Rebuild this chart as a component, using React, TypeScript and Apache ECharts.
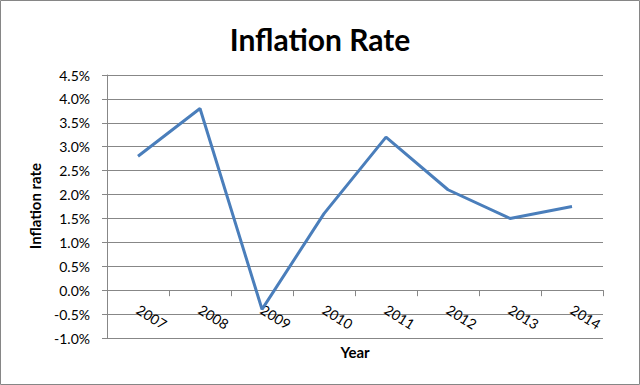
import React, { useEffect, useRef } from "react";
import * as echarts from "echarts";

const years = ["2007", "2008", "2009", "2010", "2011", "2012", "2013", "2014"];
const inflation = [2.8, 3.8, -0.4, 1.6, 3.2, 2.1, 1.5, 1.75];
const yMin = -1.0;
const yMax = 4.5;
const yStep = 0.5;

export default function App() {
  const ref = useRef<HTMLDivElement>(null);
  useEffect(() => {
    if (!ref.current) return;
    const chart = echarts.init(ref.current, undefined, { renderer: "svg" });
    const font = "Lato, 'Open Sans', 'Liberation Sans', sans-serif";
    const gridTop = 75;
    const gridBottom = 47;
    const gridH = 385 - gridTop - gridBottom;
    const zeroOffset = (gridH * (0 - yMin)) / (yMax - yMin);
    chart.setOption({
      animation: false,
      backgroundColor: "#ffffff",
      title: {
        text: "Inflation Rate",
        left: "center",
        top: 19,
        textStyle: { fontFamily: font, fontSize: 30, fontWeight: "bold", color: "#000" },
      },
      grid: { left: 107, right: 37, top: gridTop, bottom: gridBottom },
      xAxis: {
        type: "category",
        data: years,
        boundaryGap: true,
        offset: -zeroOffset,
        axisLine: { onZero: false, lineStyle: { color: "#878787", width: 1 } },
        axisTick: { show: true, length: 6, lineStyle: { color: "#878787" } },
        axisLabel: {
          rotate: -32,
          margin: 18,
          fontFamily: font,
          fontSize: 14,
          color: "#000",
        },
        splitLine: { show: false },
      },
      yAxis: {
        type: "value",
        min: yMin,
        max: yMax,
        interval: yStep,
        axisLine: { show: true, lineStyle: { color: "#878787" } },
        axisTick: { show: true, length: 5, lineStyle: { color: "#878787" } },
        axisLabel: {
          formatter: (v: number) => v.toFixed(1) + "%",
          fontFamily: font,
          fontSize: 14,
          color: "#000",
          margin: 17,
        },
        splitLine: { show: true, lineStyle: { color: "#878787", width: 1 } },
      },
      graphic: [
        {
          type: "rect",
          shape: { x: 0.5, y: 0.5, width: 639, height: 384 },
          style: { fill: "none", stroke: "#868686", lineWidth: 1 },
          silent: true,
        },
        {
          type: "text",
          x: 35,
          y: 206,
          rotation: Math.PI / 2,
          style: {
            text: "Inflation rate",
            fontFamily: font,
            fontSize: 15,
            fontWeight: "bold",
            fill: "#000",
            align: "center",
            verticalAlign: "middle",
          },
        },
        {
          type: "text",
          x: 355,
          y: 352,
          style: {
            text: "Year",
            fontFamily: font,
            fontSize: 15,
            fontWeight: "bold",
            fill: "#000",
            align: "center",
            verticalAlign: "middle",
          },
        },
      ],
      series: [
        {
          type: "line",
          data: inflation,
          symbol: "none",
          lineStyle: { color: "#4a7ebb", width: 3 },
          itemStyle: { color: "#4a7ebb" },
        },
      ],
    });
    return () => chart.dispose();
  }, []);
  return (
    <div
      ref={ref}
      style={{ position: "absolute", left: 0, top: 0, width: 640, height: 385 }}
    />
  );
}
